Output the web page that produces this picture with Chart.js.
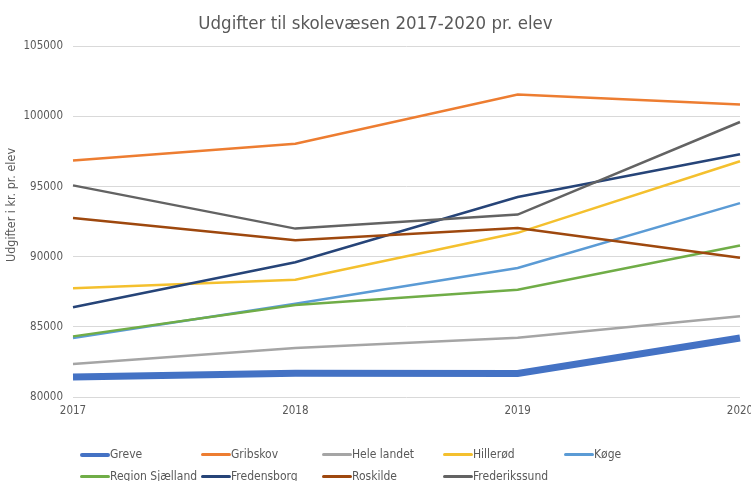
<!DOCTYPE html>
<html>
<head>
<meta charset="utf-8">
<script src="https://cdn.jsdelivr.net/npm/chart.js@4"></script>
<style>
  html, body { margin: 0; padding: 0; background: #fff; overflow: hidden; }
  #wrap { position: relative; width: 751px; height: 481px; }
  #legend { position: absolute; left: 0; top: 0; width: 751px; height: 481px; pointer-events: none;
            font-family: "DejaVu Sans Condensed", "DejaVu Sans", sans-serif; font-size: 12px; color: #595959; }
  .item { position: absolute; white-space: nowrap; height: 16px; line-height: 16px; }
  .swatch { display: inline-block; width: 30px; vertical-align: middle; border-radius: 2px; }
</style>
</head>
<body>
<div id="wrap">
  <canvas id="c"></canvas>
  <div id="legend"></div>
</div>
<script>
const years = ['2017', '2018', '2019', '2020'];
const seriesNames = ['Greve', 'Gribskov', 'Hele landet', 'Hillerød', 'Køge', 'Region Sjælland', 'Fredensborg', 'Roskilde', 'Frederikssund'];
const greve = [81420, 81700, 81670, 84200];
const gribskov = [96850, 98050, 101550, 100850];
const heleLandet = [82350, 83500, 84230, 85750];
const hilleroed = [87750, 88360, 91700, 96800];
const koege = [84200, 86650, 89190, 93820];
const regionSjaelland = [84320, 86550, 87650, 90800];
const fredensborg = [86400, 89600, 94250, 97300];
const roskilde = [92750, 91170, 92050, 89930];
const frederikssund = [95080, 92000, 93000, 99600];
const seriesValues = [greve, gribskov, heleLandet, hilleroed, koege, regionSjaelland, fredensborg, roskilde, frederikssund];
const seriesColors = ['#4472C4', '#ED7D31', '#A5A5A5', '#F4C02E', '#5B9BD5', '#70AD47', '#264478', '#9E480E', '#636363'];
const seriesWidths = [7, 2.5, 2.5, 2.5, 2.5, 2.5, 2.5, 2.5, 2.5];
const yTicks = [80000, 85000, 90000, 95000, 100000, 105000];
const yTitle = 'Udgifter i kr. pr. elev';
const chartTitle = 'Udgifter til skolevæsen 2017-2020 pr. elev';

const FONT = '"DejaVu Sans Condensed", "DejaVu Sans", sans-serif';
const TXT = '#595959';

const datasets = seriesNames.map((name, i) => ({
  label: name,
  data: seriesValues[i],
  borderColor: seriesColors[i],
  backgroundColor: seriesColors[i],
  borderWidth: seriesWidths[i],
  pointRadius: 0,
  pointHoverRadius: 0,
  tension: 0,
  fill: false,
  order: seriesNames.length - i
}));

const yTitlePlugin = {
  id: 'yTitle',
  afterDraw(chart) {
    const ctx = chart.ctx;
    ctx.save();
    ctx.translate(12, 205);
    ctx.rotate(-Math.PI / 2);
    ctx.font = '12.5px ' + FONT;
    ctx.fillStyle = TXT;
    ctx.textAlign = 'center';
    ctx.textBaseline = 'middle';
    ctx.fillText(yTitle, 0, 0);
    ctx.restore();
  }
};

new Chart(document.getElementById('c'), {
  type: 'line',
  data: { labels: years, datasets },
  plugins: [yTitlePlugin],
  options: {
    responsive: true,
    maintainAspectRatio: false,
    animation: false,
    layout: { padding: { left: 0, right: 0, top: 0, bottom: 60 } },
    plugins: {
      legend: { display: false },
      tooltip: { enabled: false },
      title: {
        display: true,
        text: chartTitle,
        color: TXT,
        font: { family: FONT, size: 18.5, weight: 'normal' },
        padding: { top: 13, bottom: 11 }
      }
    },
    scales: {
      x: {
        offset: false,
        grid: { display: false, drawTicks: false },
        border: { display: false },
        ticks: { color: TXT, font: { family: FONT, size: 11.5 }, padding: 7, maxRotation: 0 },
        afterFit: s => { s.height = 24; s.paddingRight = 11; }
      },
      y: {
        min: 80000,
        max: 105000,
        afterBuildTicks: s => { s.ticks = yTicks.map(v => ({ value: v })); },
        grid: { color: '#d9d9d9', lineWidth: 1, drawTicks: false },
        border: { display: false },
        ticks: { color: TXT, font: { family: FONT, size: 11.5 }, padding: 10, callback: v => String(v) },
        afterFit: s => { s.width = 73; }
      }
    }
  }
});

// legend in fixed 5-column grid
const legend = document.getElementById('legend');
seriesNames.forEach((name, i) => {
  const row = Math.floor(i / 5), col = i % 5;
  const d = document.createElement('div');
  d.className = 'item';
  d.style.left = (80 + col * 121) + 'px';
  d.style.top = (446 + row * 22) + 'px';
  const sw = document.createElement('span');
  sw.className = 'swatch';
  sw.style.background = seriesColors[i];
  sw.style.height = (i === 0 ? 4 : 3) + 'px';
  d.appendChild(sw);
  d.appendChild(document.createTextNode(name));
  legend.appendChild(d);
});
</script>
</body>
</html>
